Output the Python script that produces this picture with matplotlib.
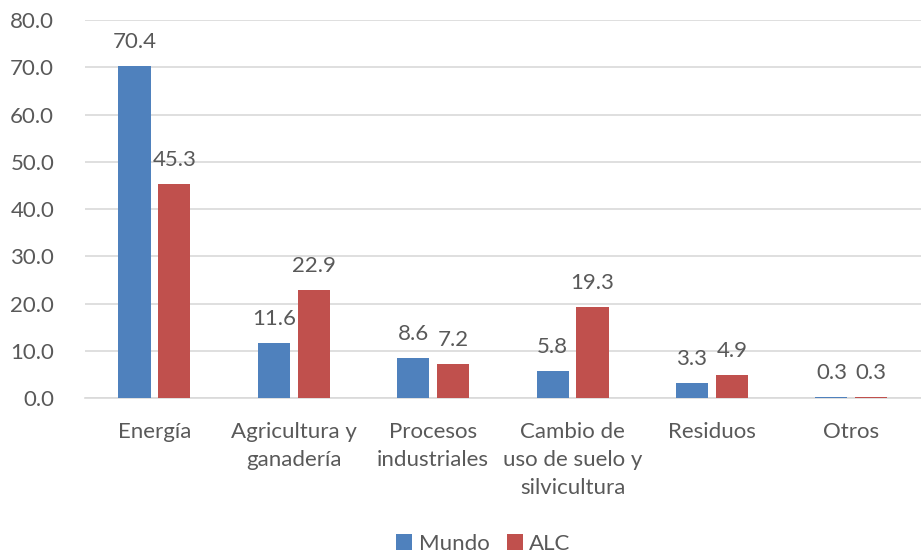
import numpy as np
import matplotlib.pyplot as plt

plt.rcParams['font.family'] = ['Lato', 'DejaVu Sans']

categorias = ['Energía', 'Agricultura y\nganadería', 'Procesos\nindustriales',
              'Cambio de\nuso de suelo y\nsilvicultura', 'Residuos', 'Otros']
mundo = [70.4, 11.6, 8.6, 5.8, 3.3, 0.3]
alc = [45.3, 22.9, 7.2, 19.3, 4.9, 0.3]

gris = '#595959'
azul = '#4F81BD'
rojo = '#C0504D'

fig = plt.figure(figsize=(9.21, 5.6), dpi=100)
ax = fig.add_axes([0.092, 0.289, 0.908, 0.675])

x = np.arange(len(categorias))
w = 0.23
b1 = ax.bar(x - 0.143, mundo, w, color=azul, label='Mundo', zorder=3)
b2 = ax.bar(x + 0.143, alc, w, color=rojo, label='ALC', zorder=3)
for barras in (b1, b2):
    ax.bar_label(barras, fmt='%.1f', padding=10, fontsize=16, color=gris)

ax.set_xlim(-0.5, 5.5)
ax.set_ylim(0, 80)
ax.set_yticks(np.arange(0, 81, 10))
ax.set_yticklabels(['%.1f' % v for v in np.arange(0, 81, 10)])
ax.yaxis.grid(True, color='#D9D9D9', linewidth=1.2, zorder=0)
ax.set_xticks(x)
ax.set_xticklabels(categorias, linespacing=1.5, va='top')
ax.tick_params(axis='y', length=0, labelsize=16, labelcolor=gris, pad=22)
ax.tick_params(axis='x', length=0, labelsize=16, labelcolor=gris, pad=17)
for s in ['top', 'right', 'left']:
    ax.spines[s].set_visible(False)
ax.spines['bottom'].set_color('#D9D9D9')
ax.spines['bottom'].set_linewidth(1.2)

leg = fig.legend(loc='lower center', bbox_to_anchor=(0.525, -0.025), ncol=2, frameon=False,
                 fontsize=16, handlelength=0.7, handleheight=0.7, handletextpad=0.3,
                 columnspacing=0.8)
for t in leg.get_texts():
    t.set_color(gris)

fig.savefig('out.png', dpi=100)
